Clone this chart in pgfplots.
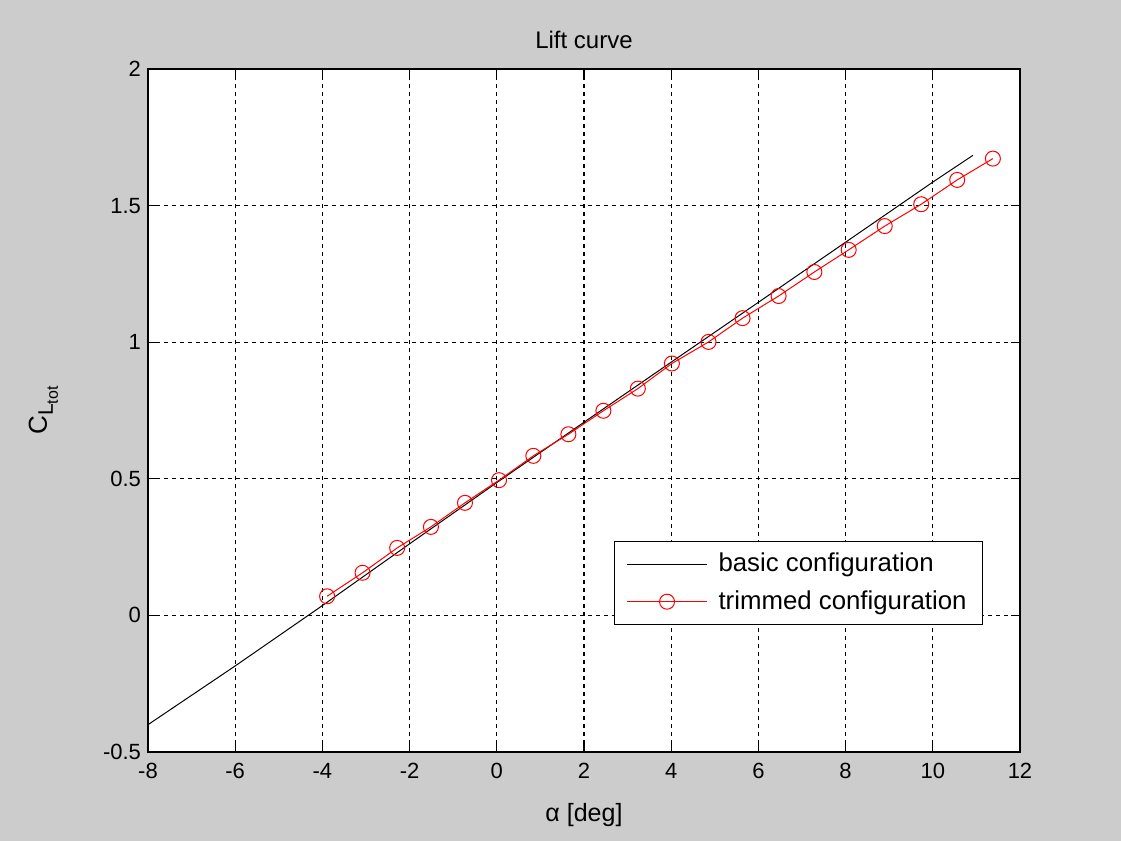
\documentclass[border=0pt]{standalone}
\usepackage{fontspec}
\setmainfont{Liberation Sans}
\usepackage{pgfplots}
\pgfplotsset{compat=1.18}
\definecolor{figgray}{RGB}{204,204,204}
\definecolor{mred}{RGB}{255,0,0}

\begin{document}
\begin{tikzpicture}
% figure background, 1121x841 px at 0.5pt per px
\fill[figgray] (0,0) rectangle (560.5pt,420.5pt);
\begin{axis}[
    at={(74pt,44.5pt)}, anchor=south west,
    scale only axis,
    width=436pt, height=341.5pt,
    xmin=-8, xmax=12, ymin=-0.5, ymax=2,
    xtick={-8,-6,...,12},
    ytick={-0.5,0,0.5,1,1.5,2},
    axis background/.style={fill=white},
    axis line style={line width=0.75pt},
    tick align=inside,
    major tick length=4.5pt,
    tick style={black, line width=0.6pt},
    grid=major,
    major grid style={black, line width=0.6pt, dash pattern=on 2pt off 2pt},
    /pgf/number format/assume math mode=true,
    tick label style={font=\fontsize{11}{13}\selectfont},
    xticklabel style={yshift=-2pt},
    title={Lift curve},
    title style={yshift=0.5pt, font=\fontsize{12}{14}\selectfont},
    xlabel={α [deg]},
    xlabel style={at={(axis description cs:0.5,-0.092)}, anchor=center, font=\fontsize{12.5}{14}\selectfont},
    ylabel={C\raisebox{-0.45ex}{\fontsize{10.5}{11}\selectfont L\raisebox{-0.45ex}{\fontsize{8}{9}\selectfont tot}}},
    ylabel style={at={(axis description cs:-0.12,0.5)}, anchor=center, font=\fontsize{13}{14}\selectfont},
    legend style={at={(0.9576,0.186)}, anchor=south east, draw=black, fill=white,
        font=\fontsize{12.9}{14}\selectfont, row sep=4pt, column sep=3.5pt,
        inner xsep=6pt, inner ysep=4pt},
    legend cell align=left,
    legend image code/.code={\draw[mark repeat=2,mark phase=2,#1] plot coordinates {(0pt,0pt) (20pt,0pt) (40pt,0pt)};},
]
\addplot[black, line width=0.5pt] coordinates {
    (-8,-0.400) (-6,-0.185) (-4,0.036) (-2,0.262) (0,0.486) (2,0.707)
    (4,0.927) (6,1.146) (8,1.366) (10,1.586) (10.92,1.684)
};
\addlegendentry{basic configuration}
\addplot[mred, line width=0.5pt, mark=o, mark size=3.75pt] coordinates {
    (-3.892,0.070) (-3.079,0.156) (-2.285,0.247) (-1.511,0.324) (-0.730,0.412)
    (0.051,0.495) (0.838,0.584) (1.642,0.663) (2.445,0.749) (3.235,0.830)
    (4.016,0.922) (4.857,1.001) (5.637,1.088) (6.464,1.169) (7.284,1.257)
    (8.071,1.338) (8.898,1.425) (9.734,1.505) (10.560,1.594) (11.378,1.672)
};
\addlegendentry{trimmed configuration}
\end{axis}
\end{tikzpicture}
\end{document}
